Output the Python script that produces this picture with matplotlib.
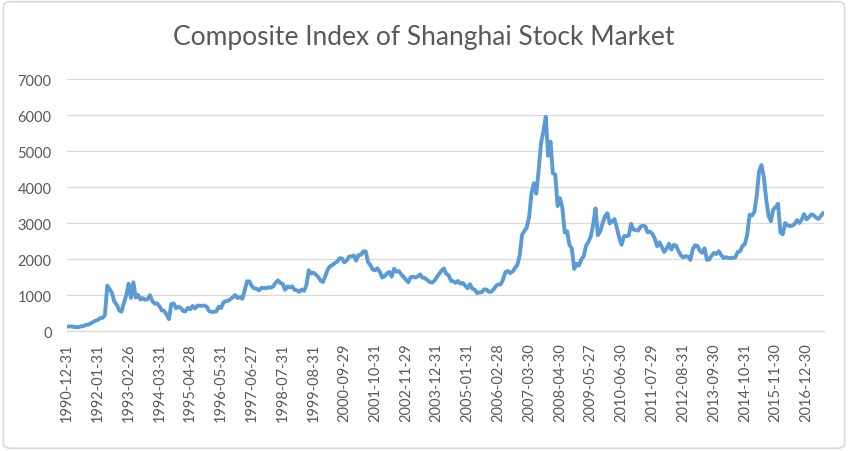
import matplotlib
matplotlib.use("Agg")
import matplotlib.pyplot as plt
from matplotlib.patches import FancyBboxPatch

# Month-end closes of the Shanghai Composite, Dec 1990 .. Jul 2017
start_year, start_month = 1990, 12
idx_1990 = [127]
idx_1991 = [129, 134, 120, 113, 115, 137, 145, 179, 180, 218, 259, 292]
idx_1992 = [313, 365, 371, 445, 1266, 1167, 1054, 824, 734, 578, 542, 780]
idx_1993 = [1000, 1320, 925, 1358, 935, 1007, 877, 920, 871, 888, 1000, 833]
idx_1994 = [767, 773, 696, 578, 562, 467, 334, 750, 772, 640, 680, 648]
idx_1995 = [562, 549, 648, 610, 701, 630, 711, 706, 705, 714, 677, 555]
idx_1996 = [537, 537, 551, 677, 644, 798, 834, 843, 891, 949, 1005, 917]
idx_1997 = [950, 900, 1140, 1386, 1380, 1250, 1188, 1181, 1133, 1200, 1203, 1194]
idx_1998 = [1220, 1206, 1243, 1343, 1411, 1339, 1315, 1150, 1242, 1217, 1248, 1147]
idx_1999 = [1135, 1090, 1158, 1120, 1279, 1689, 1601, 1628, 1573, 1505, 1405, 1367]
idx_2000 = [1535, 1714, 1800, 1836, 1894, 1928, 2023, 2022, 1911, 1961, 2070, 2073]
idx_2001 = [2103, 1960, 2113, 2120, 2214, 2218, 1920, 1834, 1709, 1690, 1747, 1646]
idx_2002 = [1491, 1524, 1604, 1645, 1515, 1733, 1654, 1670, 1581, 1507, 1436, 1358]
idx_2003 = [1499, 1511, 1490, 1521, 1576, 1487, 1476, 1421, 1367, 1349, 1398, 1497]
idx_2004 = [1590, 1675, 1742, 1595, 1555, 1399, 1386, 1342, 1396, 1320, 1340, 1267]
idx_2005 = [1191, 1306, 1181, 1159, 1060, 1080, 1083, 1162, 1155, 1092, 1099, 1161]
idx_2006 = [1258, 1299, 1298, 1440, 1641, 1672, 1612, 1658, 1752, 1837, 2099, 2675]
idx_2007 = [2786, 2881, 3183, 3841, 4109, 3820, 4471, 5218, 5552, 5954, 4871, 5262]
idx_2008 = [4383, 4348, 3473, 3693, 3433, 2736, 2775, 2397, 2293, 1729, 1871, 1821]
idx_2009 = [1991, 2082, 2373, 2477, 2633, 2959, 3412, 2667, 2779, 2996, 3195, 3277]
idx_2010 = [2989, 3051, 3110, 2870, 2592, 2398, 2638, 2639, 2656, 2979, 2820, 2808]
idx_2011 = [2791, 2905, 2928, 2911, 2743, 2762, 2701, 2568, 2359, 2468, 2333, 2199]
idx_2012 = [2292, 2428, 2263, 2396, 2373, 2225, 2103, 2047, 2086, 2069, 1980, 2269]
idx_2013 = [2385, 2366, 2237, 2177, 2301, 1979, 1994, 2098, 2175, 2141, 2220, 2116]
idx_2014 = [2033, 2056, 2033, 2026, 2039, 2048, 2202, 2217, 2364, 2420, 2683, 3235]
idx_2015 = [3210, 3310, 3748, 4442, 4612, 4277, 3664, 3206, 3053, 3383, 3446, 3539]
idx_2016 = [2738, 2688, 3004, 2938, 2917, 2930, 2979, 3085, 3005, 3100, 3250, 3104]
idx_2017 = [3159, 3242, 3223, 3155, 3117, 3192, 3273]

tick_labels = [
    "1990-12-31", "1992-01-31", "1993-02-26", "1994-03-31", "1995-04-28",
    "1996-05-31", "1997-06-27", "1998-07-31", "1999-08-31", "2000-09-29",
    "2001-10-31", "2002-11-29", "2003-12-31", "2005-01-31", "2006-02-28",
    "2007-03-30", "2008-04-30", "2009-05-27", "2010-06-30", "2011-07-29",
    "2012-08-31", "2013-09-30", "2014-10-31", "2015-11-30", "2016-12-30",
]
label_step = 13

values = (idx_1990 + idx_1991 + idx_1992 + idx_1993 + idx_1994 + idx_1995 + idx_1996
          + idx_1997 + idx_1998 + idx_1999 + idx_2000 + idx_2001 + idx_2002 + idx_2003
          + idx_2004 + idx_2005 + idx_2006 + idx_2007 + idx_2008 + idx_2009 + idx_2010
          + idx_2011 + idx_2012 + idx_2013 + idx_2014 + idx_2015 + idx_2016 + idx_2017)
x = list(range(len(values)))

plt.rcParams["font.family"] = ["Lato", "DejaVu Sans"]
text_color = "#595959"

fig = plt.figure(figsize=(8.48, 4.52), dpi=100)
ax = fig.add_axes([0.079, 0.265, 0.893, 0.558])

ax.plot(x, values, color="#5B9BD5", linewidth=2.8, solid_joinstyle="round")

ax.set_ylim(0, 7000)
ax.set_yticks(range(0, 7001, 1000))
ax.set_xlim(0, len(values) - 0.5)
ax.set_xticks([i * label_step for i in range(len(tick_labels))])
ax.set_xticklabels(tick_labels, rotation=90)

ax.grid(axis="y", color="#D9D9D9", linewidth=0.9)
ax.set_axisbelow(True)
for side in ("top", "right", "left"):
    ax.spines[side].set_visible(False)
ax.spines["bottom"].set_color("#D9D9D9")
ax.spines["bottom"].set_linewidth(0.9)
ax.tick_params(axis="both", length=0, labelsize=10.5, colors=text_color)
ax.tick_params(axis="y", pad=11)
ax.tick_params(axis="x", pad=8)

fig.text(0.5, 0.918, "Composite Index of Shanghai Stock Market",
         ha="center", va="center", fontsize=19, color=text_color)

# light chart-area border like the spreadsheet export
border = FancyBboxPatch((0.004, 0.006), 0.992, 0.988, boxstyle="round,pad=0,rounding_size=0.01",
                        transform=fig.transFigure, fill=False, edgecolor="#D9D9D9", linewidth=1.2)
fig.patches.append(border)

fig.savefig("out.png", dpi=100)
